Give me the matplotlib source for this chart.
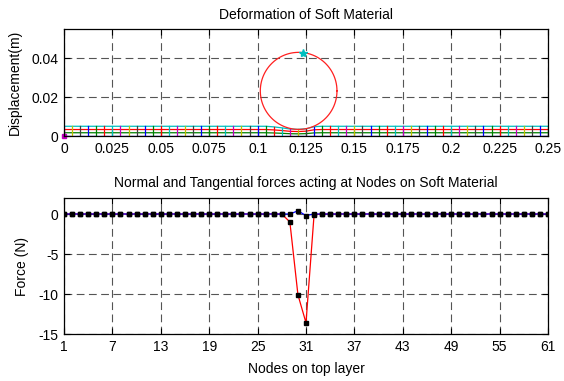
import numpy as np
import matplotlib
matplotlib.use("Agg")
import matplotlib.pyplot as plt

plt.rcParams['font.family'] = ['Liberation Sans', 'DejaVu Sans']
plt.rcParams['font.size'] = 10
plt.rcParams['axes.unicode_minus'] = False

# ---- mesh of the soft material (top panel) ----
n_nodes = 61
length = 0.25
layer_heights = [0.0, 0.00167, 0.00333, 0.005]      # undeformed layer heights (m)
layer_colors = ['b', 'g', 'r', 'c']
# indentation of the top surface under the indenter, nodes 27..32
dent_nodes = [27, 28, 29, 30, 31, 32]
dent_depth = [0.0003, 0.0008, 0.0014, 0.0016, 0.0013, 0.0002]
dent_share = [0.0, 0.35, 0.65, 1.0]                  # share of the dent per layer

# indenter (circle) and its reference point
indenter_center = (0.1212, 0.0232)
indenter_radius = 0.0198
marker_point = (0.1236, 0.0429)

# ---- nodal forces (bottom panel) ----
nodes = list(range(1, 62))
normal_force = [0.0] * 28 + [-1.0, -10.1, -13.6, -0.1] + [0.0] * 29
tangential_force = [0.0] * 29 + [0.4, -0.2] + [0.0] * 30

matlab_cycle = ['b', 'g', 'r', 'c', 'm', 'y', 'k']
mc = {'b': '#0000ff', 'g': '#008000', 'r': '#ff0000', 'c': '#00bfbf',
      'm': '#bf00bf', 'y': '#bfbf00', 'k': '#404040'}

fig = plt.figure(figsize=(5.64, 3.81), dpi=100)
ax1 = fig.add_axes([64 / 564, 1 - 136 / 381, 484 / 564, 107 / 381])
ax2 = fig.add_axes([64 / 564, 1 - 334 / 381, 484 / 564, 136 / 381])

grid_kw = dict(color='#555555', linestyle=(0, (7, 4)), linewidth=0.8)

# mesh node coordinates
x_nodes = np.linspace(0, length, n_nodes)
dent = np.zeros(n_nodes)
for nd, d in zip(dent_nodes, dent_depth):
    dent[nd - 1] = d
Y = np.array([[h - s * dent[i] for i in range(n_nodes)]
              for h, s in zip(layer_heights, dent_share)])

# horizontal layer lines
for k, col in enumerate(layer_colors):
    ax1.plot(x_nodes, Y[k], color=mc[col], linewidth=0.9, zorder=3)
# vertical lines through each node, colour cycling on from the layers
for i in range(n_nodes):
    col = matlab_cycle[(len(layer_colors) + i) % len(matlab_cycle)]
    ax1.plot([x_nodes[i]] * len(layer_heights), Y[:, i], color=mc[col],
             linewidth=0.9, zorder=3)
ax1.plot([0], [0], 's', color=mc['m'], markersize=3, zorder=4, clip_on=False)

theta = np.linspace(0, 2 * np.pi, 200)
ax1.plot(indenter_center[0] + indenter_radius * np.cos(theta),
         indenter_center[1] + indenter_radius * np.sin(theta),
         color='#ff2020', linewidth=0.9, zorder=3)
ax1.plot([marker_point[0]], [marker_point[1]], '*', color='#00bfbf',
         markersize=6, zorder=4)

ax1.set_xlim(0, 0.25)
ax1.set_ylim(0, 0.055)
xt1 = [0, 0.025, 0.05, 0.075, 0.1, 0.125, 0.15, 0.175, 0.2, 0.225, 0.25]
xl1 = ['0', '0.025', '0.05', '0.075', '0.1', '0.125', '0.15', '0.175', '0.2', '0.225', '0.25']
ax1.set_xticks(xt1)
ax1.set_xticklabels(xl1)
ax1.set_yticks([0, 0.02, 0.04])
ax1.set_yticklabels(['0', '0.02', '0.04'])
ax1.grid(True, **grid_kw)
ax1.set_axisbelow(True)
ax1.set_title('Deformation of Soft Material', fontsize=10, pad=7)
ax1.set_ylabel('Displacement(m)', fontsize=10, labelpad=7)

# forces
ax2.plot(nodes, normal_force, color='#ff0000', linewidth=0.9, zorder=3)
ax2.plot(nodes, tangential_force, color='#0000ff', linewidth=0.9, zorder=3)
ax2.plot(nodes, normal_force, 's', color='k', markersize=2.6, zorder=4)
ax2.plot(nodes, tangential_force, 's', color='k', markersize=2.6, zorder=4)
ax2.set_xlim(1, 61)
ax2.set_ylim(-15, 2)
ax2.set_xticks(list(range(1, 62, 6)))
ax2.set_yticks([0, -5, -10, -15])
ax2.grid(True, **grid_kw)
ax2.set_axisbelow(True)
ax2.set_title('Normal and Tangential forces acting at Nodes on Soft Material',
              fontsize=10, pad=8)
ax2.set_xlabel('Nodes on top layer', fontsize=10, labelpad=6)
ax2.set_ylabel('Force (N)', fontsize=10, labelpad=7)

for ax in (ax1, ax2):
    ax.tick_params(direction='in', length=4, width=0.8, top=True, right=True,
                   labelsize=10, pad=4)
    for sp in ax.spines.values():
        sp.set_linewidth(0.9)
        sp.set_zorder(5)

fig.savefig('out.png', dpi=100)
